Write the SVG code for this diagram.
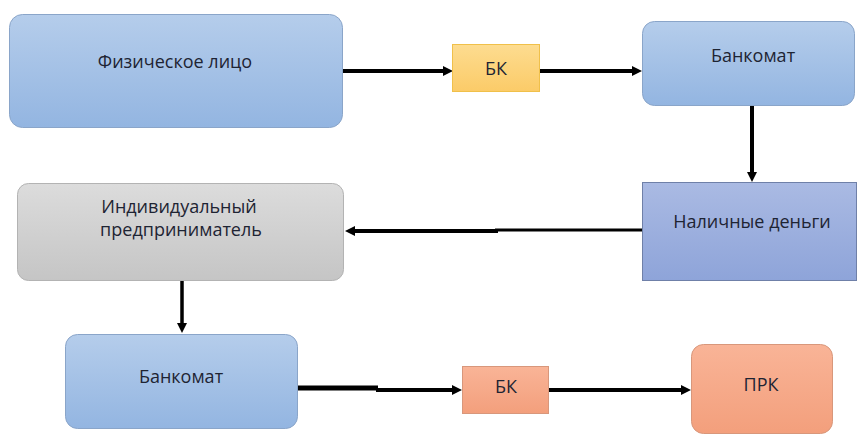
<svg xmlns="http://www.w3.org/2000/svg" width="857" height="434" viewBox="0 0 857 434">
<defs>
<linearGradient id="gBlue" x1="0" y1="0" x2="0" y2="1"><stop offset="0" stop-color="#B5CDEB"/><stop offset="1" stop-color="#93B5E1"/></linearGradient>
<linearGradient id="gYellow" x1="0" y1="0" x2="0" y2="1"><stop offset="0" stop-color="#FDDC90"/><stop offset="1" stop-color="#FBCB68"/></linearGradient>
<linearGradient id="gGray" x1="0" y1="0" x2="0" y2="1"><stop offset="0" stop-color="#DCDCDC"/><stop offset="1" stop-color="#C5C5C5"/></linearGradient>
<linearGradient id="gPeri" x1="0" y1="0" x2="0" y2="1"><stop offset="0" stop-color="#AABAE3"/><stop offset="1" stop-color="#8EA4D9"/></linearGradient>
<linearGradient id="gSalmon" x1="0" y1="0" x2="0" y2="1"><stop offset="0" stop-color="#F9B497"/><stop offset="1" stop-color="#F39F7C"/></linearGradient>
<marker id="ah" viewBox="0 0 10 10" refX="3" refY="5" markerWidth="10" markerHeight="10" markerUnits="userSpaceOnUse" orient="auto"><path d="M0,0 L10,5 L0,10 z" fill="#000"/></marker>
<style>
.lbl{font-family:"Open Sans","DejaVu Sans",sans-serif;font-size:18px;fill:#1E2433;text-anchor:middle}
.blue{fill:url(#gBlue);stroke:#8AA5C9;stroke-width:1}
.yellow{fill:url(#gYellow);stroke:#F0C04A;stroke-width:1}
.gray{fill:url(#gGray);stroke:#B3B3B3;stroke-width:1}
.peri{fill:url(#gPeri);stroke:#6F80A8;stroke-width:1}
.salmon{fill:url(#gSalmon);stroke:#D8977B;stroke-width:1}
.c{fill:none;stroke:#000;stroke-width:4}
</style>
</defs>
<rect width="857" height="434" fill="#fff"/>
<g id="connectors">
<path class="c" d="M343,71 H446" marker-end="url(#ah)"/>
<path class="c" d="M540,71 H635" marker-end="url(#ah)"/>
<path class="c" d="M752,105 V175" marker-end="url(#ah)"/>
<path class="c" d="M642,230 H495" style="stroke-width:3"/>
<path class="c" d="M498,231 H352" marker-end="url(#ah)"/>
<path class="c" d="M182,280 V326" style="stroke-width:3.5" marker-end="url(#ah)"/>
<path class="c" d="M297,388 H378" style="stroke-width:5"/>
<path class="c" d="M376,390 H455" marker-end="url(#ah)"/>
<path class="c" d="M548,390 H684" marker-end="url(#ah)"/>
</g>
<g id="fiz"><rect class="blue" x="9.5" y="14.5" width="333" height="113" rx="13"/><text class="lbl" x="175" y="68">Физическое лицо</text></g>
<g id="bk1"><rect class="yellow" x="452.5" y="44.5" width="87" height="47"/><text class="lbl" x="496" y="75">БК</text></g>
<g id="atm1"><rect class="blue" x="642.5" y="21.5" width="212" height="84" rx="12"/><text class="lbl" x="753" y="62">Банкомат</text></g>
<g id="cash"><rect class="peri" x="642.5" y="182.5" width="214" height="98"/><text class="lbl" x="752" y="228">Наличные деньги</text></g>
<g id="ip"><rect class="gray" x="17.5" y="183.5" width="326" height="97" rx="11"/><text class="lbl" x="179" y="213">Индивидуальный</text><text class="lbl" x="181" y="236">предприниматель</text></g>
<g id="atm2"><rect class="blue" x="65.5" y="334.5" width="232" height="94" rx="12"/><text class="lbl" x="181" y="383">Банкомат</text></g>
<g id="bk2"><rect class="salmon" x="462.5" y="366.5" width="86" height="47"/><text class="lbl" x="506" y="393">БК</text></g>
<g id="prk"><rect class="salmon" x="691.5" y="344.5" width="141" height="89" rx="12"/><text class="lbl" x="761" y="391">ПРК</text></g>
</svg>
